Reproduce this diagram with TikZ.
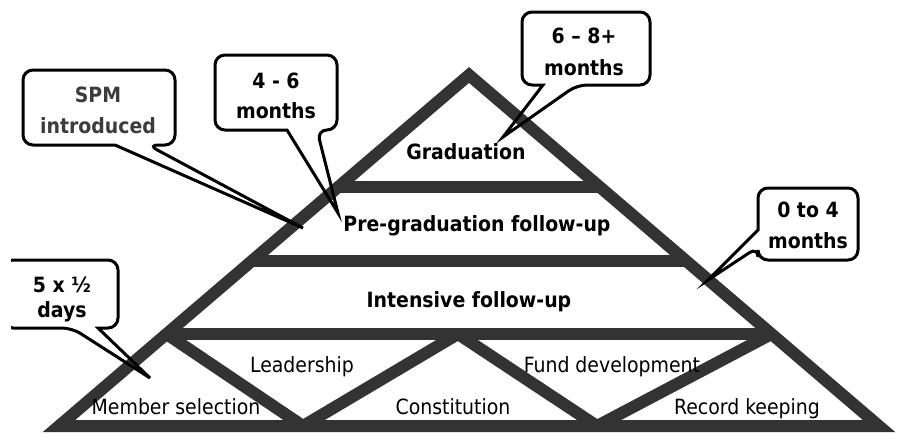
\documentclass[tikz,border=0pt]{standalone}
\usepackage{fontspec}
\setmainfont{DejaVu Sans Condensed}
\usetikzlibrary{calc}
\definecolor{pyrgray}{HTML}{333333}
\definecolor{spmgray}{HTML}{3C3C3C}
\begin{document}
\begin{tikzpicture}[x=1pt,y=-1pt,
  pyr/.style={draw=pyrgray, line width=12pt, line join=miter, miter limit=10},
  callout/.style={draw=black, line width=3pt, line join=miter},
  lbl/.style={font=\bfseries\fontsize{21}{25}\selectfont, anchor=base, inner sep=0pt},
  sublbl/.style={font=\fontsize{21}{25}\selectfont, anchor=base, inner sep=0pt},
  ctext/.style={font=\bfseries\fontsize{21}{25}\selectfont, anchor=base, inner sep=0pt}]
\useasboundingbox (0,0) rectangle (902,447);
\clip (0,0) rectangle (902,447);
% pyramid
\coordinate (L) at (59,426);
\coordinate (R) at (879,426);
\coordinate (T) at (469,75);
\draw[pyr] (L) -- (T) -- (R) -- cycle;
\coordinate (b1l) at ($(L)!0.6795!(T)$);
\coordinate (b1r) at ($(R)!0.6795!(T)$);
\coordinate (b2l) at ($(L)!0.470!(T)$);
\coordinate (b2r) at ($(R)!0.470!(T)$);
\coordinate (v0) at ($(L)!0.2621!(T)$);
\coordinate (v4) at ($(R)!0.2621!(T)$);
\coordinate (v1) at (303,426);
\coordinate (v2) at (458,334);
\coordinate (v3) at (597,426);
\draw[pyr] (b1l) -- (b1r);
\draw[pyr] (b2l) -- (b2r);
\draw[pyr] (v0) -- (v4);
\draw[pyr, line join=bevel] (v0) -- (v1) -- (v2) -- (v3) -- (v4);
% labels
\node[lbl] (grad) at (466,159) {Graduation};
\node[lbl] (pregrad) at (477,231) {Pre-graduation follow-up};
\node[lbl] (intens) at (469,307) {Intensive follow-up};
\node[sublbl] (lead) at (302,372) {Leadership};
\node[sublbl] (fund) at (612,372) {Fund development};
\node[sublbl] (memb) at (176,414) {Member selection};
\node[sublbl] (const) at (453,414) {Constitution};
\node[sublbl] (rec) at (747,414) {Record keeping};
% callouts
\draw[callout] (115,145) [rounded corners=10pt] -- (23,145) -- (23,70) -- (175,70) -- (175,145) -- (148,145) [sharp corners] -- (303,228) -- cycle;
\node[ctext, text=spmgray] (spm1) at (98,102) {SPM};
\node[ctext, text=spmgray] (spm2) at (98,133) {introduced};
\draw[callout] (287,130) [rounded corners=10pt] -- (215,130) -- (215,55) -- (337,55) -- (337,130) -- (317,130) [sharp corners] -- (338,213) -- cycle;
\node[ctext] (c46a) at (276,88) {4 - 6};
\node[ctext] (c46b) at (276,118) {months};
\draw[callout] (543,85) [rounded corners=10pt] -- (522,85) -- (522,12) -- (650,12) -- (650,85) -- (577,85) [sharp corners] -- (503,137) -- cycle;
\node[ctext] (c68a) at (584,43) {6 \textendash{} 8+};
\node[ctext] (c68b) at (584,75) {months};
\draw[callout] (758,230) [rounded corners=10pt] -- (758,188) -- (858,188) -- (858,260) -- (758,260) -- (758,247) [sharp corners] -- (708,280) -- cycle;
\node[ctext] (c04a) at (808,217) {0 to 4};
\node[ctext] (c04b) at (808,248) {months};
\begin{scope}
\clip (11,240) rectangle (200,400);
\draw[callout] (98,328) [rounded corners=10pt] -- (118,328) -- (118,260) -- (3,260) -- (3,328) -- (72,328) [sharp corners] -- (150,378) -- cycle;
\end{scope}
\node[ctext] (c5a) at (62,292) {5 x ½};
\node[ctext] (c5b) at (62,317) {days};
\end{tikzpicture}
\end{document}
